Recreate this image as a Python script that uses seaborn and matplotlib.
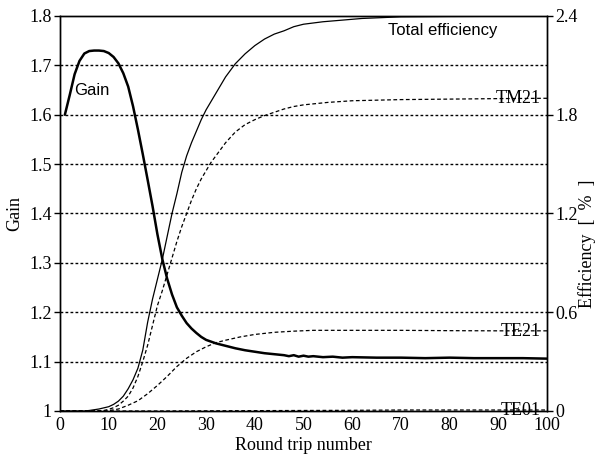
import matplotlib
matplotlib.use("Agg")
import matplotlib.pyplot as plt
import seaborn as sns
import numpy as np

# ---- data ----
gain_x = [1,2,3,4,5,6,7,8,9,10,11,12,13,14,15,16,17,18,19,20,21,22,23,24,25,26,27,28,29,30,
          32,34,36,38,40,42,44,46,47,48,49,50,51,52,54,56,58,60,65,70,75,80,85,90,95,100]
gain_y = [1.600,1.640,1.682,1.709,1.724,1.729,1.730,1.730,1.729,1.725,1.717,1.704,1.684,1.657,
          1.617,1.570,1.520,1.468,1.415,1.358,1.308,1.268,1.236,1.210,1.193,1.178,1.167,1.158,
          1.150,1.144,1.137,1.132,1.127,1.123,1.120,1.117,1.115,1.113,1.111,1.113,1.110,1.112,
          1.110,1.111,1.109,1.110,1.108,1.109,1.108,1.108,1.107,1.108,1.107,1.107,1.107,1.106]

total_x = [0,5,6,8,10,11,12,13,14,15,16,17,18,19,20,21,22,23,24,25,26,27,28,29,30,32,34,36,38,
           40,42,44,46,48,50,54,58,62,66,70,80,90,100]
total_y = [0,0,0.003,0.012,0.026,0.04,0.06,0.09,0.135,0.19,0.26,0.37,0.54,0.68,0.80,0.92,1.06,
           1.20,1.32,1.45,1.55,1.63,1.70,1.77,1.83,1.93,2.03,2.11,2.17,2.22,2.26,2.29,2.31,2.335,
           2.35,2.365,2.375,2.385,2.39,2.395,2.397,2.398,2.398]

tm21_x = [0,8,9,10,11,12,13,14,15,16,17,18,19,20,21,22,23,24,25,26,27,28,29,30,31,32,34,36,38,
          40,42,44,46,48,50,55,60,70,80,90,100]
tm21_y = [0,0,0.003,0.01,0.02,0.035,0.06,0.09,0.14,0.21,0.30,0.40,0.52,0.64,0.73,0.83,0.93,1.03,
          1.12,1.20,1.28,1.35,1.41,1.46,1.51,1.55,1.63,1.695,1.74,1.77,1.795,1.815,1.835,1.85,
          1.86,1.875,1.885,1.892,1.895,1.898,1.90]

te21_x = [0,9,10,12,14,16,18,20,22,24,26,28,30,32,34,37,40,44,48,52,60,70,80,90,100]
te21_y = [0,0,0.002,0.012,0.035,0.062,0.105,0.155,0.21,0.27,0.32,0.36,0.39,0.415,0.43,0.45,
          0.465,0.478,0.485,0.49,0.49,0.49,0.488,0.487,0.487]

te01_x = [0,20,40,60,70,80,90,100]
te01_y = [0,0,0.002,0.004,0.006,0.006,0.006,0.006]

gain_ticks = [1.0,1.1,1.2,1.3,1.4,1.5,1.6,1.7,1.8]
gain_tick_labels = ["1","1.1","1.2","1.3","1.4","1.5","1.6","1.7","1.8"]
eff_ticks = [0,0.6,1.2,1.8,2.4]
eff_tick_labels = ["0","0.6","1.2","1.8","2.4"]
x_ticks = [0,10,20,30,40,50,60,70,80,90,100]

# ---- style ----
sns.set_theme(style="white")
plt.rcParams['font.family'] = ['Liberation Serif', 'DejaVu Serif']
plt.rcParams['axes.edgecolor'] = 'black'
plt.rcParams['axes.linewidth'] = 1.0

fig = plt.figure(figsize=(6.0, 4.57), dpi=100)
ax = fig.add_axes([0.1, 0.1007, 0.8117, 0.8643])
ax2 = ax.twinx()

# gridlines (dotted) at gain steps
for g in gain_ticks[1:-1]:
    ax.axhline(g, color='black', lw=1.0, ls=(0, (2, 1.6)), zorder=1)

sns.lineplot(x=gain_x, y=gain_y, ax=ax, color='black', linewidth=1.8, zorder=3)
sns.lineplot(x=total_x, y=total_y, ax=ax2, color='black', linewidth=0.9)
sns.lineplot(x=tm21_x, y=tm21_y, ax=ax2, color='black', linewidth=0.9, linestyle=(0, (3, 2)))
sns.lineplot(x=te21_x, y=te21_y, ax=ax2, color='black', linewidth=0.9, linestyle=(0, (3, 2)))
sns.lineplot(x=te01_x, y=te01_y, ax=ax2, color='black', linewidth=0.9, linestyle=(0, (3, 2)))

ax.set_xlim(0, 100)
ax.set_ylim(1.0, 1.8)
ax2.set_ylim(0, 2.4)

ax.set_xticks(x_ticks)
ax.set_xticklabels([str(t) for t in x_ticks])
ax.set_yticks(gain_ticks)
ax.set_yticklabels(gain_tick_labels)
ax2.set_yticks(eff_ticks)
ax2.set_yticklabels(eff_tick_labels)

ax.tick_params(axis='x', direction='inout', length=7, width=1, labelsize=13, pad=1, colors='black')
ax.tick_params(axis='y', direction='out', length=4, width=1, labelsize=13, pad=2, colors='black')
ax2.tick_params(axis='y', direction='out', length=4, width=1, labelsize=13, pad=2, colors='black')

ax.set_xlabel("Round trip number", fontsize=13, labelpad=2, color='black')
ax.set_ylabel("Gain", fontsize=13, color='black')
ax.yaxis.set_label_coords(-0.076, 0.5)
ax2.set_ylabel("Efficiency  [  %  ]", fontsize=13, color='black', rotation=90)
ax2.yaxis.set_label_coords(1.063, 0.423)

for a in (ax, ax2):
    for s in a.spines.values():
        s.set_visible(True)
        s.set_color('black')

# annotations
ax.text(6.6, 1.65, "Gain", fontsize=12, family=['Liberation Sans', 'DejaVu Sans'],
        ha='center', va='center', color='black')
ax.text(67.4, 1.77, "Total efficiency", fontsize=12, family=['Liberation Sans', 'DejaVu Sans'],
        ha='left', va='center', color='black')
ax2.text(98.8, 1.896, "TM21", fontsize=13, ha='right', va='center', color='black')
ax2.text(98.8, 0.485, "TE21", fontsize=13, ha='right', va='center', color='black')
ax2.text(98.8, 0.005, "TE01", fontsize=13, ha='right', va='center', color='black')

fig.savefig("out.png", dpi=100)
